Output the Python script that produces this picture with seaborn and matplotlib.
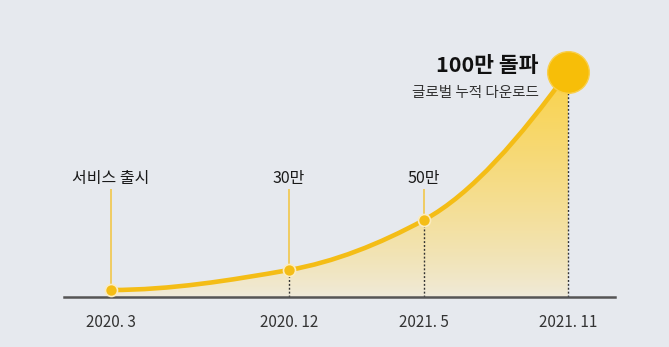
import numpy as np
import pandas as pd
import matplotlib
matplotlib.use("Agg")
import matplotlib.pyplot as plt
from matplotlib.path import Path
from matplotlib.patches import PathPatch
from matplotlib.colors import to_rgba
import seaborn as sns

# ---- data ----
months = ["2020. 3", "2020. 12", "2021. 5", "2021. 11"]
events = ["서비스 출시", "30만", "50만", "100만 돌파"]
downloads_man = [0, 30, 50, 100]          # 만 (10k) cumulative downloads
timeline_pos = [0, 178, 313, 457]         # schematic timeline position
curve_height = [7, 27, 77, 225]           # schematic curve height
subtitle = "글로벌 누적 다운로드"

df = pd.DataFrame({"month": months, "event": events, "downloads": downloads_man,
                   "x": timeline_pos, "y": curve_height})

BG = "#e6e9ee"
GOLD = "#f4bd16"

sns.set_theme(style="white")
plt.rcParams["font.family"] = ["Noto Sans CJK KR", "DejaVu Sans"]

fig = plt.figure(figsize=(6.69, 3.47), dpi=100)
fig.patch.set_facecolor(BG)
ax = fig.add_axes([64 / 669, 50 / 347, 551 / 669, 297 / 347])
ax.set_facecolor(BG)


# shape-preserving (Fritsch-Carlson / PCHIP) cubic bezier path through the points
def pchip_path(xs, ys):
    xs = np.asarray(xs, float); ys = np.asarray(ys, float)
    h = np.diff(xs); s = np.diff(ys) / h
    n = len(xs)
    d = np.zeros(n)
    for k in range(1, n - 1):
        if s[k - 1] * s[k] > 0:
            w1 = 2 * h[k] + h[k - 1]
            w2 = h[k] + 2 * h[k - 1]
            d[k] = (w1 + w2) / (w1 / s[k - 1] + w2 / s[k])
    def end(h0, h1, s0, s1):
        v = ((2 * h0 + h1) * s0 - h0 * s1) / (h0 + h1)
        if np.sign(v) != np.sign(s0):
            return 0.0
        if np.sign(s0) != np.sign(s1) and abs(v) > abs(3 * s0):
            return 3 * s0
        return v
    d[0] = end(h[0], h[1], s[0], s[1])
    d[-1] = end(h[-1], h[-2], s[-1], s[-2])
    verts = [(xs[0], ys[0])]
    codes = [Path.MOVETO]
    for i in range(n - 1):
        dx = h[i] / 3
        verts += [(xs[i] + dx, ys[i] + dx * d[i]),
                  (xs[i + 1] - dx, ys[i + 1] - dx * d[i + 1]),
                  (xs[i + 1], ys[i + 1])]
        codes += [Path.CURVE4] * 3
    return verts, codes


verts, codes = pchip_path(df["x"], df["y"])

# gradient fill under curve
fill_verts = verts + [(df["x"].iloc[-1], 0), (df["x"].iloc[0], 0), verts[0]]
fill_codes = codes + [Path.LINETO, Path.LINETO, Path.CLOSEPOLY]
fill_patch = PathPatch(Path(fill_verts, fill_codes), facecolor="none", edgecolor="none")
ax.add_patch(fill_patch)
top = np.array(to_rgba("#fad24a"))
bot = np.array(to_rgba("#efeadb"))
fr = np.linspace(0, 1, 256)[:, None] ** 0.8
grad = (bot * (1 - fr) + top * fr)[:, None, :]
im = ax.imshow(grad, extent=[df["x"].min(), df["x"].max(), 0, df["y"].max()],
               origin="lower", aspect="auto", zorder=1)
im.set_clip_path(fill_patch)

# curve line
ax.add_patch(PathPatch(Path(verts, codes), facecolor="none", edgecolor=GOLD,
                       lw=3.3, capstyle="round", zorder=3))

# dotted drop lines (except launch)
for _, r in df.iloc[1:].iterrows():
    ax.vlines(r["x"], 0, r["y"], colors="#333333", linestyles=(0, (1.4, 1.4)), lw=1.0, zorder=2)

# yellow leader lines from labels to points
label_y = 119
for _, r in df.iloc[:3].iterrows():
    ax.vlines(r["x"], r["y"], label_y - 11, colors="#f2c74a", lw=1.2, zorder=2)
    ax.text(r["x"], label_y, r["event"], ha="center", va="center", fontsize=11.5,
            color="#1a1a1a")

# small markers
sns.scatterplot(data=df.iloc[:3], x="x", y="y", s=75, color=GOLD, edgecolor="#fbecc0",
                linewidth=1.2, ax=ax, zorder=5, legend=False)
# big milestone marker
sns.scatterplot(data=df.iloc[3:], x="x", y="y", s=900, color="#f7be08", edgecolor="#f9cf4a",
                linewidth=1.0, ax=ax, zorder=6, legend=False)

last = df.iloc[-1]
ax.text(last["x"] - 30, last["y"] + 7, last["event"], ha="right", va="center",
        fontsize=15.5, fontweight="bold", color="#111111")
ax.text(last["x"] - 29, last["y"] - 21, subtitle, ha="right", va="center",
        fontsize=10.5, color="#333333")

# axes styling
ax.set_xlim(-47, 504)
ax.set_ylim(0, 297)
for sp in ["top", "right", "left"]:
    ax.spines[sp].set_visible(False)
ax.spines["bottom"].set_color("#555555")
ax.spines["bottom"].set_linewidth(1.8)
ax.spines["bottom"].set_zorder(4)
ax.set_xticks(df["x"], df["month"])
ax.tick_params(axis="x", length=0, pad=12, labelsize=11, labelcolor="#333333")
ax.set_yticks([])
ax.set_xlabel("")
ax.set_ylabel("")

fig.savefig("out.png", dpi=100, facecolor=BG)
